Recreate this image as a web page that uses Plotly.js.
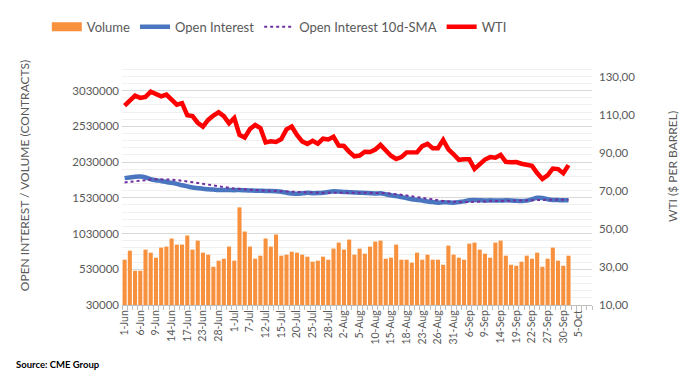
<!DOCTYPE html>
<html>
<head>
<meta charset="utf-8">
<script src="https://cdn.plot.ly/plotly-3.0.1.min.js"></script>
<style>
html,body{margin:0;padding:0;background:#fff;}
#chart{width:695px;height:387px;}
</style>
</head>
<body>
<div id="chart"></div>
<script>
const dates = ["1-Jun","2-Jun","3-Jun","6-Jun","7-Jun","8-Jun","9-Jun","10-Jun","13-Jun","14-Jun","15-Jun","16-Jun","17-Jun","21-Jun","22-Jun","23-Jun","24-Jun","27-Jun","28-Jun","29-Jun","30-Jun",
"1-Jul","5-Jul","6-Jul","7-Jul","8-Jul","11-Jul","12-Jul","13-Jul","14-Jul","15-Jul","18-Jul","19-Jul","20-Jul","21-Jul","22-Jul","25-Jul","26-Jul","27-Jul","28-Jul","29-Jul",
"1-Aug","2-Aug","3-Aug","4-Aug","5-Aug","8-Aug","9-Aug","10-Aug","11-Aug","12-Aug","15-Aug","16-Aug","17-Aug","18-Aug","19-Aug","22-Aug","23-Aug","24-Aug","25-Aug","26-Aug","29-Aug","30-Aug","31-Aug",
"1-Sep","2-Sep","6-Sep","7-Sep","8-Sep","9-Sep","12-Sep","13-Sep","14-Sep","15-Sep","16-Sep","19-Sep","20-Sep","21-Sep","22-Sep","23-Sep","26-Sep","27-Sep","28-Sep","29-Sep","30-Sep",
"3-Oct","4-Oct","5-Oct","6-Oct","7-Oct"];

const tickLabels = ["1-Jun","6-Jun","9-Jun","14-Jun","17-Jun","23-Jun","28-Jun","1-Jul","7-Jul","12-Jul","15-Jul","20-Jul","25-Jul","28-Jul","2-Aug","5-Aug","10-Aug","15-Aug","18-Aug","23-Aug","26-Aug","31-Aug","6-Sep","9-Sep","14-Sep","19-Sep","22-Sep","27-Sep","30-Sep","5-Oct"];

const volume = [664000,790000,509000,509000,805000,762000,692000,833000,847000,960000,875000,875000,1002000,805000,931000,762000,734000,565000,650000,678000,847000,
650000,1396000,1058000,847000,678000,720000,960000,847000,1016000,720000,734000,776000,762000,734000,706000,636000,650000,706000,664000,819000,
903000,805000,945000,734000,819000,748000,847000,917000,931000,678000,692000,875000,664000,664000,622000,762000,664000,734000,664000,664000,593000,861000,734000,
692000,664000,889000,903000,805000,748000,692000,903000,931000,720000,593000,579000,636000,720000,678000,762000,565000,678000,833000,650000,579000,
720000];

const openInterest = [1805000,1815000,1825000,1828000,1815000,1790000,1775000,1765000,1750000,1740000,1725000,1705000,1690000,1675000,1665000,1655000,1650000,1645000,1640000,1640000,1638000,
1636000,1640000,1635000,1632000,1630000,1628000,1625000,1625000,1622000,1615000,1600000,1590000,1585000,1592000,1600000,1595000,1596000,1600000,1610000,1622000,
1618000,1612000,1608000,1605000,1600000,1598000,1595000,1590000,1592000,1580000,1565000,1555000,1540000,1525000,1510000,1500000,1490000,1478000,1470000,1462000,1468000,1465000,1462000,
1470000,1480000,1495000,1498000,1495000,1492000,1495000,1493000,1492000,1495000,1493000,1488000,1485000,1490000,1510000,1530000,1528000,1510000,1500000,1498000,1495000,
1495000];

const oiSMA = [1745000,1755000,1765000,1772000,1780000,1785000,1790000,1790000,1788000,1785000,1778000,1770000,1760000,1748000,1738000,1725000,1712000,1700000,1690000,1680000,1670000,
1660000,1652000,1648000,1643000,1638000,1634000,1630000,1628000,1626000,1624000,1620000,1615000,1610000,1606000,1604000,1603000,1602000,1602000,1603000,1604000,
1605000,1606000,1606000,1606000,1605000,1604000,1602000,1600000,1598000,1595000,1590000,1582000,1572000,1562000,1550000,1540000,1530000,1518000,1506000,1495000,1486000,1478000,1472000,
1470000,1470000,1472000,1475000,1478000,1482000,1485000,1488000,1490000,1492000,1493000,1493000,1492000,1492000,1494000,1497000,1500000,1502000,1503000,1503000,1502000,
1501000];

const wti = [115.0,117.6,120.3,119.1,119.6,122.4,121.0,119.9,120.8,118.2,115.5,116.3,110.0,109.5,106.0,104.0,107.5,109.8,111.5,109.5,105.7,
108.5,99.6,98.2,102.7,104.8,103.2,95.6,96.2,95.9,97.4,102.5,104.0,99.6,96.2,94.8,96.5,95.0,97.6,97.2,98.6,
94.0,93.8,90.7,88.3,88.7,90.7,90.6,91.9,94.3,91.6,88.6,86.9,87.9,90.4,90.7,90.5,93.7,94.9,92.6,92.6,97.0,92.0,89.4,
86.5,86.8,86.8,81.7,83.9,86.6,87.9,87.6,89.1,85.4,85.2,85.3,84.4,83.6,83.3,79.5,76.4,78.3,81.9,81.6,79.4,
83.7];

const gray = '#595959';
const n = volume.length;
const xData = dates.slice(0, n);
const font = 'Lato, "Open Sans", sans-serif';

const traces = [
  {type:'scatter', mode:'lines', x:[null], y:[null], name:'Volume', line:{color:'#F7913D', width:9}, hoverinfo:'skip', legendrank:1},
  {type:'bar', x:xData, y:volume, name:'Volume', marker:{color:'#F7913D'}, showlegend:false, yaxis:'y'},
  {type:'scatter', mode:'lines', x:xData, y:openInterest, name:'Open Interest', line:{color:'#4A76C0', width:4.5, shape:'spline', smoothing:0.6}, yaxis:'y', legendrank:2},
  {type:'scatter', mode:'lines', x:xData, y:oiSMA, name:'Open Interest 10d-SMA', line:{color:'#7030A0', width:2, dash:'dot'}, yaxis:'y', legendrank:3},
  {type:'scatter', mode:'lines', x:xData, y:wti, name:'WTI', line:{color:'#FF0000', width:4.5}, yaxis:'y2', legendrank:4}
];

const layout = {
  width:695, height:387,
  margin:{l:122, r:103, t:62, b:82},
  paper_bgcolor:'#fff', plot_bgcolor:'#fff',
  separators:',.',
  font:{family:font, color:gray, size:11},
  showlegend:true,
  legend:{orientation:'h', x:-0.16, xanchor:'left', y:1.145, yanchor:'middle', font:{size:13, color:gray, family:font}, traceorder:'normal', itemwidth:30, bgcolor:'rgba(0,0,0,0)'},
  bargap:0.22,
  xaxis:{
    type:'category', categoryorder:'array', categoryarray:dates,
    range:[-0.5, dates.length-0.5],
    tickmode:'array', tickvals:dates, ticktext:dates.map(d => tickLabels.includes(d) ? d : ''),
    tickangle:-90, tickfont:{size:10.5, color:gray, family:font},
    ticks:'outside', tickson:'boundaries', ticklen:4, tickcolor:'#BFBFBF',
    showline:true, linecolor:'#BFBFBF', linewidth:1,
    showgrid:false, zeroline:false, fixedrange:true
  },
  yaxis:{
    range:[30000, 3430000], tick0:30000, dtick:500000, tickformat:'d',
    tickfont:{size:11.5, color:gray, family:font},
    gridcolor:'#D9D9D9', gridwidth:1,
    minor:{dtick:100000, tick0:30000, showgrid:true, gridcolor:'#F0F0F0', gridwidth:1},
    zeroline:false, showline:false, ticks:'', ticklabelstandoff:2
  },
  yaxis2:{
    overlaying:'y', side:'right', range:[10, 138], tickvals:[10,30,50,70,90,110,130],
    tickformat:'.2f', showgrid:false, zeroline:false, showline:false, ticks:'', ticklabelstandoff:6,
    tickfont:{size:11.5, color:gray, family:font}
  },
  annotations:[
    {xref:'paper', yref:'paper', x:-0.206, y:0.535, xanchor:'center', yanchor:'middle', showarrow:false, textangle:-90,
     text:'OPEN INTEREST / VOLUME (CONTRACTS)', font:{size:12, color:gray, family:font}},
    {xref:'paper', yref:'paper', x:1.170, y:0.572, xanchor:'center', yanchor:'middle', showarrow:false, textangle:-90,
     text:'WTI ($ PER BARREL)', font:{size:12, color:gray, family:font}},
    {xref:'paper', yref:'paper', x:-0.229, y:-0.245, xanchor:'left', yanchor:'middle', showarrow:false,
     text:'<b>Source: CME Group</b>', font:{size:9.5, color:'#000', family:font}}
  ]
};

Plotly.newPlot('chart', traces, layout, {displayModeBar:false, staticPlot:true});
</script>
</body>
</html>
